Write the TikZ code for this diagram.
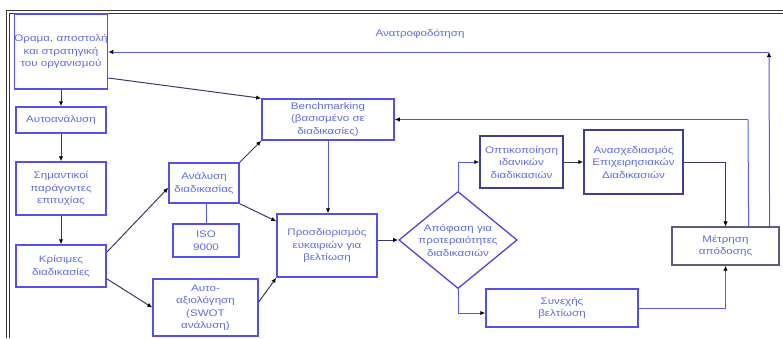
\documentclass[tikz,border=0pt]{standalone}
\usepackage{fontspec}
\setmainfont{Liberation Sans}[FakeStretch=1.22]
\usetikzlibrary{arrows.meta,shapes.geometric,calc}

\definecolor{boxblue}{RGB}{88,78,235}
\definecolor{boxdark}{RGB}{62,62,150}
\definecolor{boxgrey}{RGB}{92,92,128}
\definecolor{txtblue}{RGB}{96,110,225}
\definecolor{linedark}{RGB}{58,58,105}
\definecolor{linegrey}{RGB}{100,100,130}
\definecolor{lineblue}{RGB}{88,88,232}
\definecolor{framegrey}{RGB}{55,55,55}

\begin{document}
\begin{tikzpicture}[x=1pt,y=-1pt,
  every node/.style={font=\fontsize{9.5}{12.5}\selectfont, text=txtblue},
  box/.style={draw=boxblue, line width=1.5pt, fill=white, align=center, inner sep=0pt},
  darkbox/.style={box, draw=boxdark},
  greybox/.style={box, draw=boxgrey, line width=1.2pt},
  decision/.style={diamond, draw=boxblue!80!violet, line width=1.3pt, fill=white,
    align=center, inner sep=0pt, aspect=1.22},
  conn/.style={draw=linedark, line width=1pt, -{Latex[length=5pt,width=4.5pt,color=black]}},
  bconn/.style={conn, draw=lineblue},
  gconn/.style={conn, draw=linegrey},
  link/.style={draw=lineblue, line width=1pt}
]
\useasboundingbox (0,0) rectangle (783,338);

% double frame along the left and top edges
\draw[framegrey, line width=0.8pt] (6.8,338) -- (6.8,10.2) -- (783,10.2);
\draw[framegrey, line width=0.8pt] (9.6,338) -- (9.6,12.9) -- (783,12.9);

% left column
\node[box, minimum width=90pt, minimum height=75pt] (A) at (61,51.5)
  {Όραμα, αποστολή\\και στρατηγική\\του οργανισμού};
\node[box, minimum width=90pt, minimum height=26pt] (B) at (61,120) {Αυτοανάλυση};
\node[box, minimum width=90pt, minimum height=53pt] (C) at (61,188.5)
  {Σημαντικοί\\παράγοντες\\επιτυχίας};
\node[box, minimum width=90pt, minimum height=42pt] (D) at (61,266)
  {Κρίσιμες\\διαδικασίες};

% analysis column
\node[box, minimum width=70pt, minimum height=40pt] (E) at (204,183)
  {Ανάλυση\\διαδικασίας};
\node[box, minimum width=66pt, minimum height=33pt] (F) at (206,240.5) {ISO\\9000};
\node[box, minimum width=105pt, minimum height=57pt] (G) at (205.5,307.5)
  {Αυτο-\\αξιολόγηση\\(SWOT\\ανάλυση)};

% benchmarking and opportunities
\node[box, minimum width=132pt, minimum height=41pt] (H) at (328,119.5)
  {Benchmarking\\(βασισμένο σε\\διαδικασίες)};
\node[box, minimum width=100pt, minimum height=63pt] (I) at (327,245.5)
  {Προσδιορισμός\\ευκαιριών για\\βελτίωση};

% decision and its two branches
\node[decision, minimum width=117pt, minimum height=96pt] (J) at (458,240)
  {Απόφαση για\\προτεραιότητες\\διαδικασιών};
\node[darkbox, minimum width=83pt, minimum height=52pt] (K) at (521.5,162)
  {Οπτικοποίηση\\ιδανικών\\διαδικασιών};
\node[darkbox, minimum width=99pt, minimum height=64pt] (L) at (633.5,162)
  {Ανασχεδιασμός\\Επιχειρησιακών\\Διαδικασιών};
\node[box, minimum width=152pt, minimum height=38pt] (N) at (562,308)
  {Συνεχής\\βελτίωση};
\node[greybox, minimum width=107pt, minimum height=38pt] (M) at (725.5,246)
  {Μέτρηση\\απόδοσης};

% left column flow
\draw[conn] (A.south) -- (B.north);
\draw[conn] (B.south) -- (C.north);
\draw[conn] (C.south) -- (D.north);

% diagonal links
\draw[conn] ([yshift=-26.5pt]A.east) -- (H.north west);
\draw[conn] ([yshift=-8pt]D.north east) -- ([yshift=16pt]E.south west);
\draw[conn] ([yshift=9pt]D.south east) -- (G.west);
\draw[conn] (E.north east) -- (H.south west);
\draw[conn] (E.south east) -- ([yshift=-8pt]I.north west);
\draw[conn] ([yshift=5.5pt]G.east) -- (I.south west);
\draw[link] (E.south -| F.north) -- (F.north);
\draw[bconn] (H.south) -- (H.south |- I.north);

% decision branches
\draw[conn] (I.east |- J.west) -- (J.west);
\draw[bconn] (J.north) |- (K.west);
\draw[conn] (K.east) -- (L.west);
\draw[conn] (L.east) -| (M.north);
\draw[bconn] (J.south) |- ([yshift=-5pt]N.west);
\draw[bconn] (N.east) -| (M.south);

% loops back from performance measurement
\coordinate (bm) at (748,119.5);
\draw[link] ([xshift=-31pt]M.north east) -- (bm);
\draw[gconn] (bm) -- (H.east);
\coordinate (fb) at (769,52);
\draw[bconn] ([xshift=-10pt]M.north east) -- (fb);
\draw[bconn] (fb) -- (fb -| A.east);
\node (fbl) at (420,34) {Ανατροφοδότηση};
\end{tikzpicture}
\end{document}
